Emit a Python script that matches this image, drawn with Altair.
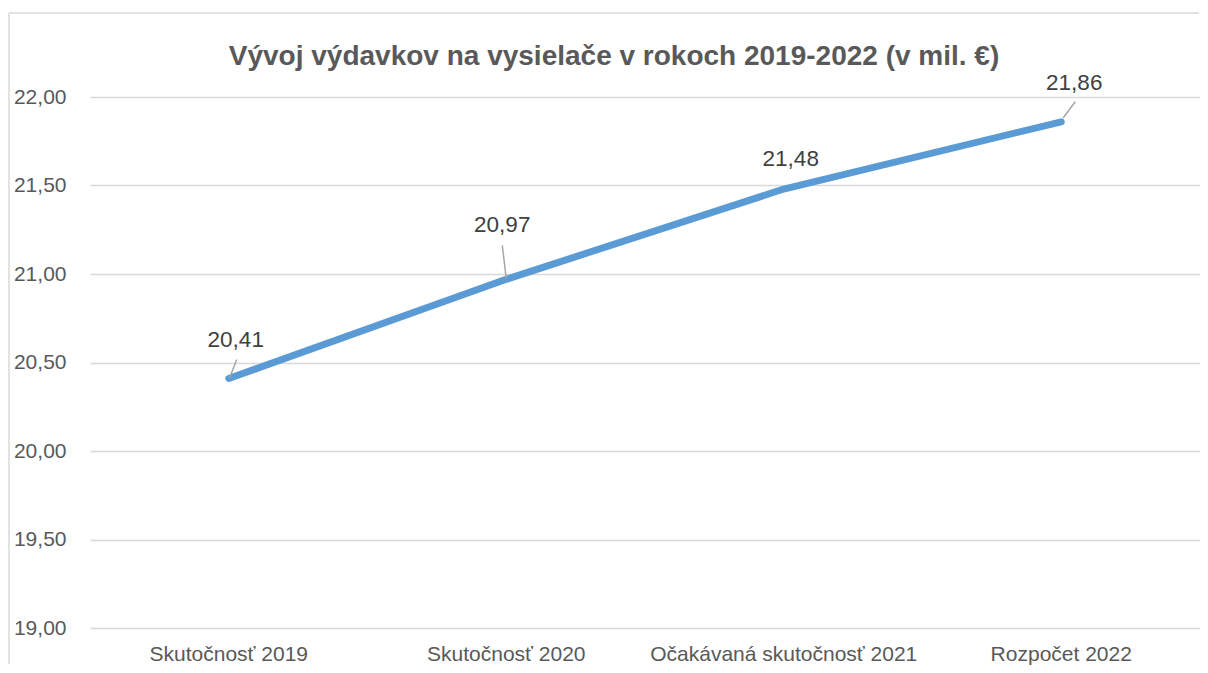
import altair as alt
import pandas as pd

categories = ["Skutočnosť 2019", "Skutočnosť 2020", "Očakávaná skutočnosť 2021", "Rozpočet 2022"]
values = [20.41, 20.97, 21.48, 21.86]
y_ticks = [19.0, 19.5, 20.0, 20.5, 21.0, 21.5, 22.0]
title_text = "Vývoj výdavkov na vysielače v rokoch 2019-2022 (v mil. €)"

# label placement styling (pixel offsets from each point)
label_dx = [7, -4, 7, 13]
label_dy = [-31, -47, -23, -32]
# leader lines: (start dx, start dy, end dx, end dy) or None
leaders = [(8, -19, 1, -1), (-4, -34, 0, -1), None, (14, -20, 2, -4)]

FONT = "Liberation Sans"
W, H = 1110, 531

df = pd.DataFrame({"cat": categories, "val": values, "idx": list(range(len(categories)))})
base = alt.Chart(df)

x_enc = alt.X("cat:N", sort=categories, title=None,
              axis=alt.Axis(labelAngle=0, ticks=False, domain=False, labelFont=FONT,
                            labelFontSize=21, labelColor="#595959", labelPadding=15,
                            labelLimit=0, grid=False))
y_enc = alt.Y("val:Q", title=None,
              scale=alt.Scale(domain=[19, 22], nice=False, zero=False),
              axis=alt.Axis(values=y_ticks, ticks=False, domain=False, labelFont=FONT,
                            labelFontSize=21, labelColor="#595959", labelPadding=24,
                            grid=True, gridColor="#D9D9D9", gridWidth=1.5,
                            labelExpr="replace(format(datum.value, '.2f'), '.', ',')"))

line = base.mark_line(color="#5B9BD5", strokeWidth=7, strokeCap="round", strokeJoin="round").encode(
    x=x_enc, y=y_enc)

layers = [line]
for i in range(len(categories)):
    lab = base.transform_filter(alt.datum.idx == i).transform_calculate(
        lbl="replace(format(datum.val, '.2f'), '.', ',')"
    ).mark_text(font=FONT, fontSize=22.5, color="#404040", baseline="alphabetic",
                align="center", dx=label_dx[i], dy=label_dy[i]).encode(
        x=alt.X("cat:N", sort=categories), y="val:Q", text="lbl:N")
    layers.append(lab)
    if leaders[i] is not None:
        sx, sy, ex, ey = leaders[i]
        rl = base.transform_filter(alt.datum.idx == i).mark_rule(
            color="#A6A6A6", strokeWidth=1.5,
            xOffset=sx, yOffset=sy, x2Offset=ex, y2Offset=ey).encode(
            x=alt.X("cat:N", sort=categories), y="val:Q",
            x2="cat:N", y2="val:Q")
        layers.append(rl)

title = base.transform_filter(alt.datum.idx == 0).mark_text(
    font=FONT, fontSize=28, fontWeight="bold", color="#595959",
    align="center", baseline="alphabetic").encode(
    x=alt.value(524), y=alt.value(-32), text=alt.value(title_text))

border_left = base.transform_filter(alt.datum.idx == 0).mark_rule(
    color="#D9D9D9", strokeWidth=1.5, strokeCap="butt").encode(
    x=alt.value(-81), x2=alt.value(-81), y=alt.value(-84), y2=alt.value(H + 36))
border_top = base.transform_filter(alt.datum.idx == 0).mark_rule(
    color="#D9D9D9", strokeWidth=1.5, strokeCap="butt").encode(
    x=alt.value(-81), x2=alt.value(W - 1), y=alt.value(-84), y2=alt.value(-84))

chart = alt.layer(border_left, border_top, title, *layers).properties(
    width=W, height=H,
    autosize=alt.AutoSizeParams(type="none"),
    padding={"left": 82, "top": 89, "right": 0, "bottom": 37},
).configure_view(stroke=None)

chart.save("out.html", embed_options={"renderer": "svg", "actions": False})
